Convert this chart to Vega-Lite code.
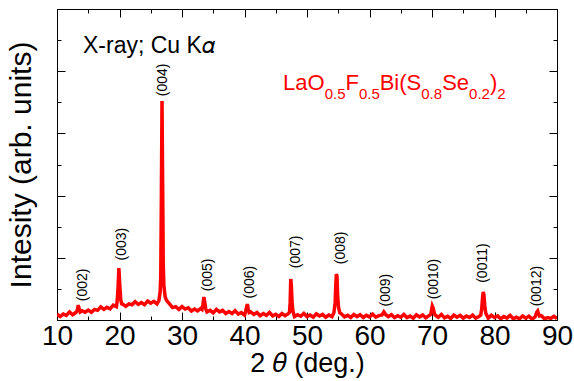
{
  "$schema": "https://vega.github.io/schema/vega-lite/v6.json",
  "width": 500,
  "height": 311,
  "autosize": "none",
  "padding": {"left": 57, "top": 9, "right": 17, "bottom": 61},
  "background": "white",
  "config": {
    "view": {"stroke": null},
    "font": "Liberation Sans",
    "axis": {"grid": false, "labelFlush": false, "domainColor": "black", "tickColor": "black", "labelColor": "black", "titleColor": "black", "labelFont": "Liberation Sans", "titleFont": "Liberation Sans", "titleFontWeight": "normal"}
  },
  "datasets": {
    "xrd": [
      {"t": 10.0, "i": 1.9}, {"t": 10.5, "i": 1.1}, {"t": 11.0, "i": 1.9}, {"t": 11.5, "i": 1.5}, {"t": 12.0, "i": 2.6}, {"t": 12.5, "i": 1.7}, {"t": 13.0, "i": 2.4},
      {"t": 13.1, "i": 2.6}, {"t": 13.25, "i": 3.2}, {"t": 13.4, "i": 4.8}, {"t": 13.55, "i": 3.6}, {"t": 13.7, "i": 2.6},
      {"t": 14.0, "i": 3.0}, {"t": 14.5, "i": 2.5}, {"t": 15.0, "i": 3.2}, {"t": 15.5, "i": 2.5}, {"t": 16.0, "i": 3.4}, {"t": 16.5, "i": 3.1}, {"t": 17.0, "i": 4.2}, {"t": 17.5, "i": 3.4}, {"t": 18.0, "i": 4.1}, {"t": 18.5, "i": 3.6}, {"t": 19.0, "i": 4.8}, {"t": 19.5, "i": 4.3},
      {"t": 19.6, "i": 5.5}, {"t": 19.75, "i": 9.5}, {"t": 19.9, "i": 16.7}, {"t": 20.05, "i": 11.0}, {"t": 20.2, "i": 6.5}, {"t": 20.35, "i": 5.2},
      {"t": 20.5, "i": 5.1}, {"t": 21.0, "i": 4.4}, {"t": 21.5, "i": 5.2}, {"t": 22.0, "i": 4.9}, {"t": 22.5, "i": 5.9}, {"t": 23.0, "i": 5.0}, {"t": 23.5, "i": 5.6}, {"t": 24.0, "i": 4.9}, {"t": 24.5, "i": 6.1}, {"t": 25.0, "i": 5.4}, {"t": 25.5, "i": 6.0}, {"t": 26.0, "i": 5.2},
      {"t": 26.3, "i": 6.2}, {"t": 26.5, "i": 9.0}, {"t": 26.6, "i": 14.0}, {"t": 26.7, "i": 40.0}, {"t": 26.8, "i": 70.4}, {"t": 26.9, "i": 45.0}, {"t": 27.0, "i": 18.0}, {"t": 27.1, "i": 11.0}, {"t": 27.3, "i": 7.5}, {"t": 27.5, "i": 6.4},
      {"t": 28.0, "i": 5.2}, {"t": 28.5, "i": 4.0}, {"t": 29.0, "i": 4.3}, {"t": 29.5, "i": 3.4}, {"t": 30.0, "i": 4.3}, {"t": 30.5, "i": 3.5}, {"t": 31.0, "i": 3.9}, {"t": 31.5, "i": 2.9}, {"t": 32.0, "i": 3.5}, {"t": 32.5, "i": 2.9}, {"t": 33.0, "i": 3.7},
      {"t": 33.2, "i": 3.4}, {"t": 33.35, "i": 5.0}, {"t": 33.5, "i": 7.4}, {"t": 33.65, "i": 5.5}, {"t": 33.8, "i": 3.6},
      {"t": 34.0, "i": 2.6}, {"t": 34.5, "i": 3.1}, {"t": 35.0, "i": 2.3}, {"t": 35.5, "i": 3.4}, {"t": 36.0, "i": 2.6}, {"t": 36.5, "i": 3.1}, {"t": 37.0, "i": 2.1}, {"t": 37.5, "i": 2.7}, {"t": 38.0, "i": 2.1}, {"t": 38.5, "i": 3.0}, {"t": 39.0, "i": 1.9}, {"t": 39.5, "i": 2.4}, {"t": 40.0, "i": 1.6},
      {"t": 40.15, "i": 2.5}, {"t": 40.3, "i": 3.8}, {"t": 40.45, "i": 5.1}, {"t": 40.6, "i": 3.6}, {"t": 40.75, "i": 2.4},
      {"t": 41.0, "i": 2.6}, {"t": 41.5, "i": 1.8}, {"t": 42.0, "i": 2.4}, {"t": 42.5, "i": 1.4}, {"t": 43.0, "i": 2.1}, {"t": 43.5, "i": 1.5}, {"t": 44.0, "i": 2.4}, {"t": 44.5, "i": 1.3}, {"t": 45.0, "i": 1.8}, {"t": 45.5, "i": 1.1}, {"t": 46.0, "i": 2.1}, {"t": 46.5, "i": 1.4}, {"t": 47.0, "i": 2.0},
      {"t": 47.2, "i": 2.5}, {"t": 47.3, "i": 5.5}, {"t": 47.4, "i": 13.2}, {"t": 47.5, "i": 11.0}, {"t": 47.6, "i": 6.0}, {"t": 47.75, "i": 2.8},
      {"t": 48.0, "i": 1.1}, {"t": 48.5, "i": 1.7}, {"t": 49.0, "i": 1.2}, {"t": 49.5, "i": 2.1}, {"t": 50.0, "i": 1.1}, {"t": 50.5, "i": 1.6}, {"t": 51.0, "i": 0.9}, {"t": 51.5, "i": 2.0}, {"t": 52.0, "i": 1.3}, {"t": 52.5, "i": 1.8}, {"t": 53.0, "i": 0.9}, {"t": 53.5, "i": 1.6}, {"t": 54.0, "i": 1.1},
      {"t": 54.3, "i": 2.3}, {"t": 54.5, "i": 5.5}, {"t": 54.6, "i": 11.0}, {"t": 54.7, "i": 14.8}, {"t": 54.8, "i": 14.0}, {"t": 54.9, "i": 8.0}, {"t": 55.05, "i": 4.0}, {"t": 55.25, "i": 2.3},
      {"t": 55.5, "i": 2.0}, {"t": 56.0, "i": 1.0}, {"t": 56.5, "i": 1.5}, {"t": 57.0, "i": 0.8}, {"t": 57.5, "i": 1.8}, {"t": 58.0, "i": 1.1}, {"t": 58.5, "i": 1.7}, {"t": 59.0, "i": 0.8}, {"t": 59.5, "i": 1.5}, {"t": 60.0, "i": 1.0}, {"t": 60.5, "i": 1.9}, {"t": 61.0, "i": 0.9}, {"t": 61.5, "i": 1.4},
      {"t": 62.0, "i": 1.6}, {"t": 62.15, "i": 2.1}, {"t": 62.3, "i": 2.6}, {"t": 62.45, "i": 2.2}, {"t": 62.6, "i": 1.7},
      {"t": 63.0, "i": 1.1}, {"t": 63.5, "i": 1.7}, {"t": 64.0, "i": 0.8}, {"t": 64.5, "i": 1.4}, {"t": 65.0, "i": 0.9}, {"t": 65.5, "i": 1.8}, {"t": 66.0, "i": 0.8}, {"t": 66.5, "i": 1.3}, {"t": 67.0, "i": 0.6}, {"t": 67.5, "i": 1.7}, {"t": 68.0, "i": 1.0}, {"t": 68.5, "i": 1.6}, {"t": 69.0, "i": 0.7}, {"t": 69.5, "i": 1.4},
      {"t": 69.8, "i": 1.8}, {"t": 69.95, "i": 3.4}, {"t": 70.05, "i": 4.5}, {"t": 70.2, "i": 3.8}, {"t": 70.35, "i": 2.4}, {"t": 70.5, "i": 1.6},
      {"t": 71.0, "i": 0.9}, {"t": 71.5, "i": 1.8}, {"t": 72.0, "i": 0.7}, {"t": 72.5, "i": 1.2}, {"t": 73.0, "i": 0.5}, {"t": 73.5, "i": 1.6}, {"t": 74.0, "i": 0.9}, {"t": 74.5, "i": 1.5}, {"t": 75.0, "i": 0.6}, {"t": 75.5, "i": 1.3}, {"t": 76.0, "i": 0.8}, {"t": 76.5, "i": 1.6}, {"t": 77.0, "i": 0.6}, {"t": 77.5, "i": 1.1},
      {"t": 77.8, "i": 1.6}, {"t": 77.95, "i": 3.5}, {"t": 78.1, "i": 7.5}, {"t": 78.2, "i": 9.0}, {"t": 78.3, "i": 8.2}, {"t": 78.45, "i": 4.5}, {"t": 78.6, "i": 2.2},
      {"t": 79.0, "i": 0.6}, {"t": 79.5, "i": 1.5}, {"t": 80.0, "i": 0.8}, {"t": 80.5, "i": 1.3}, {"t": 81.0, "i": 0.4}, {"t": 81.5, "i": 1.1}, {"t": 82.0, "i": 0.6}, {"t": 82.5, "i": 1.5}, {"t": 83.0, "i": 0.4}, {"t": 83.5, "i": 0.9}, {"t": 84.0, "i": 0.4}, {"t": 84.5, "i": 1.3}, {"t": 85.0, "i": 0.6}, {"t": 85.5, "i": 1.2}, {"t": 86.0, "i": 0.3}, {"t": 86.5, "i": 1.0},
      {"t": 86.6, "i": 1.6}, {"t": 86.75, "i": 2.5}, {"t": 86.9, "i": 2.9}, {"t": 87.05, "i": 2.0}, {"t": 87.2, "i": 1.3},
      {"t": 87.5, "i": 1.4}, {"t": 88.0, "i": 0.4}, {"t": 88.5, "i": 0.8}, {"t": 89.0, "i": 0.5}, {"t": 89.5, "i": 1.2}, {"t": 90.0, "i": 0.5}
    ],
    "peaks": [
      {"t": 14.1, "y": 11.3, "hkl": "(002)"},
      {"t": 20.35, "y": 24.4, "hkl": "(003)"},
      {"t": 27.0, "y": 77.2, "hkl": "(004)"},
      {"t": 34.2, "y": 14.5, "hkl": "(005)"},
      {"t": 40.9, "y": 12.2, "hkl": "(006)"},
      {"t": 48.2, "y": 21.9, "hkl": "(007)"},
      {"t": 55.5, "y": 23.2, "hkl": "(008)"},
      {"t": 62.6, "y": 9.6, "hkl": "(009)"},
      {"t": 70.3, "y": 13.2, "hkl": "(0010)"},
      {"t": 78.2, "y": 18.3, "hkl": "(0011)"},
      {"t": 86.85, "y": 10.9, "hkl": "(0012)"}
    ],
    "formulaMain": [
      {"t": 46.16, "y": 74.0, "s": "LaO"},
      {"t": 56.15, "y": 74.0, "s": "F"},
      {"t": 61.62, "y": 74.0, "s": "Bi(S"},
      {"t": 71.62, "y": 74.0, "s": "Se"},
      {"t": 79.26, "y": 74.0, "s": ")"}
    ],
    "formulaSub": [
      {"t": 52.82, "y": 71.0, "s": "0.5"},
      {"t": 58.3, "y": 71.0, "s": "0.5"},
      {"t": 68.28, "y": 71.0, "s": "0.8"},
      {"t": 75.93, "y": 71.0, "s": "0.2"},
      {"t": 80.43, "y": 71.0, "s": "2"}
    ],
    "note": [
      {"t": 14.16, "y": 85.9, "s": "X-ray; Cu K𝛼"}
    ]
  },
  "layer": [
    {
      "data": {"name": "xrd"},
      "mark": {"type": "line", "color": "#ff0000", "strokeWidth": 3.5, "clip": true},
      "encoding": {
        "x": {"field": "t", "type": "quantitative", "scale": {"domain": [10, 90], "nice": false, "zero": false},
          "axis": {"orient": "bottom", "values": [10, 20, 30, 40, 50, 60, 70, 80, 90], "tickSize": -8, "labelPadding": 10, "labelFontSize": 28, "title": "2 𝜃 (deg.)", "titleFontSize": 27, "titlePadding": 0, "domainWidth": 1}},
        "y": {"field": "i", "type": "quantitative", "scale": {"domain": [0, 100], "nice": false, "zero": true},
          "axis": {"orient": "left", "values": [0, 20, 40, 60, 80, 100], "tickSize": -8, "labels": false, "title": "Intesity (arb. units)", "titleFontSize": 30, "titlePadding": 20, "domainWidth": 1}}
      }
    },
    {
      "data": {"name": "peaks"},
      "mark": {"type": "text", "angle": 270, "align": "center", "baseline": "middle", "fontSize": 14, "color": "black", "font": "Liberation Sans"},
      "encoding": {
        "x": {"field": "t", "type": "quantitative", "scale": {"domain": [10, 90], "nice": false, "zero": false}, "axis": {"orient": "top", "values": [10, 20, 30, 40, 50, 60, 70, 80, 90], "tickSize": -8, "labels": false, "title": null, "domainWidth": 1}},
        "y": {"field": "y", "type": "quantitative", "scale": {"domain": [0, 100], "nice": false, "zero": true}, "axis": {"orient": "right", "values": [0, 20, 40, 60, 80, 100], "tickSize": -8, "labels": false, "title": null, "domainWidth": 1}},
        "text": {"field": "hkl"}
      }
    },
    {
      "data": {"name": "formulaMain"},
      "mark": {"type": "text", "align": "left", "baseline": "alphabetic", "fontSize": 22, "color": "#ff0000", "font": "Liberation Sans"},
      "encoding": {
        "x": {"field": "t", "type": "quantitative", "axis": {"orient": "bottom", "values": [15, 25, 35, 45, 55, 65, 75, 85], "tickSize": -4, "labels": false, "title": null, "domain": false}},
        "y": {"field": "y", "type": "quantitative", "axis": {"orient": "left", "values": [10, 30, 50, 70, 90], "tickSize": -4, "labels": false, "title": null, "domain": false}},
        "text": {"field": "s"}
      }
    },
    {
      "data": {"name": "formulaSub"},
      "mark": {"type": "text", "align": "left", "baseline": "alphabetic", "fontSize": 15, "color": "#ff0000", "font": "Liberation Sans"},
      "encoding": {
        "x": {"field": "t", "type": "quantitative", "axis": {"orient": "top", "values": [15, 25, 35, 45, 55, 65, 75, 85], "tickSize": -4, "labels": false, "title": null, "domain": false}},
        "y": {"field": "y", "type": "quantitative", "axis": {"orient": "right", "values": [10, 30, 50, 70, 90], "tickSize": -4, "labels": false, "title": null, "domain": false}},
        "text": {"field": "s"}
      }
    },
    {
      "data": {"name": "note"},
      "mark": {"type": "text", "align": "left", "baseline": "alphabetic", "fontSize": 23, "color": "black", "font": "Liberation Sans"},
      "encoding": {
        "x": {"field": "t", "type": "quantitative", "axis": null},
        "y": {"field": "y", "type": "quantitative", "axis": null},
        "text": {"field": "s"}
      }
    }
  ],
  "resolve": {"axis": {"x": "independent", "y": "independent"}}
}
